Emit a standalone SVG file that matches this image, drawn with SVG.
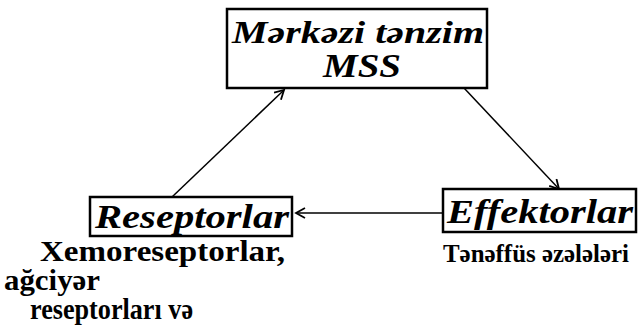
<svg xmlns="http://www.w3.org/2000/svg" width="638" height="334" viewBox="0 0 638 334">
<style>
.box{fill:#fff;stroke:#000;stroke-width:2.5}
.bi{font-family:"Liberation Serif","DejaVu Serif",serif;font-weight:bold;font-style:italic;fill:#000}
.b{font-family:"Liberation Serif","DejaVu Serif",serif;font-weight:bold;fill:#000}
.ln{stroke:#000;stroke-width:1.5;fill:none}
</style>
<defs>
<marker id="ah" markerWidth="12" markerHeight="12" refX="10" refY="6" orient="auto" markerUnits="userSpaceOnUse">
<path d="M1,1 L10,6 L1,11" fill="none" stroke="#000" stroke-width="1.8"/>
</marker>
</defs>
<g id="connectors">
<line class="ln" x1="172" y1="197" x2="284" y2="90" marker-end="url(#ah)"/>
<line class="ln" x1="464" y1="88" x2="559" y2="189" marker-end="url(#ah)"/>
<line class="ln" x1="443" y1="213" x2="296" y2="213" marker-end="url(#ah)"/>
</g>
<g id="center">
<rect class="box" x="227" y="9" width="260" height="79"/>
<text class="bi" x="232" y="43" font-size="32" textLength="252" lengthAdjust="spacingAndGlyphs">Mərkəzi tənzim</text>
<text class="bi" x="323" y="77" font-size="34" textLength="78" lengthAdjust="spacingAndGlyphs">MSS</text>
</g>
<g id="receptors">
<rect class="box" x="90" y="197" width="202" height="39"/>
<text class="bi" x="95" y="228" font-size="33" textLength="194" lengthAdjust="spacingAndGlyphs">Reseptorlar</text>
<text class="b" x="40" y="261" font-size="30" textLength="245" lengthAdjust="spacingAndGlyphs">Xemoreseptorlar,</text>
<text class="b" x="4" y="290" font-size="30" textLength="96" lengthAdjust="spacingAndGlyphs">ağciyər</text>
<text class="b" x="30" y="319" font-size="30" textLength="163" lengthAdjust="spacingAndGlyphs">reseptorları və</text>
</g>
<g id="effectors">
<rect class="box" x="443" y="189" width="193" height="43"/>
<text class="bi" x="447" y="223" font-size="33" textLength="186" lengthAdjust="spacingAndGlyphs">Effektorlar</text>
<text class="b" x="443" y="262" font-size="26" textLength="186" lengthAdjust="spacingAndGlyphs">Tənəffüs əzələləri</text>
</g>
</svg>
